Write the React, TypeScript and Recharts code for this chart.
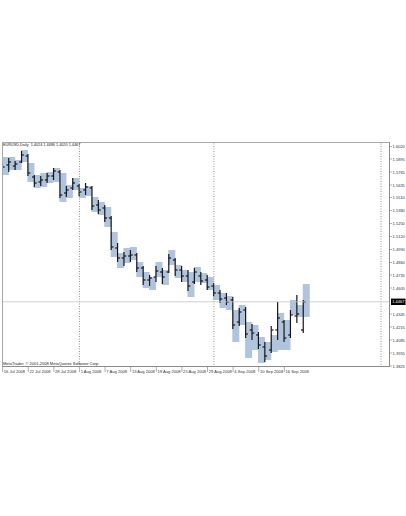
import { Bar, ComposedChart, ReferenceLine, XAxis, YAxis } from 'recharts'

// daily bars, 16 Jul 2008 .. 19 Sep 2008
const dates = [
  '16 Jul 2008', '17 Jul 2008', '18 Jul 2008', '21 Jul 2008', '22 Jul 2008', '23 Jul 2008', '24 Jul 2008', '25 Jul 2008',
  '28 Jul 2008', '29 Jul 2008', '30 Jul 2008', '31 Jul 2008', '1 Aug 2008', '4 Aug 2008', '5 Aug 2008', '6 Aug 2008',
  '7 Aug 2008', '8 Aug 2008', '11 Aug 2008', '12 Aug 2008', '13 Aug 2008', '14 Aug 2008', '15 Aug 2008', '18 Aug 2008',
  '19 Aug 2008', '20 Aug 2008', '21 Aug 2008', '22 Aug 2008', '25 Aug 2008', '26 Aug 2008', '27 Aug 2008', '28 Aug 2008',
  '29 Aug 2008', '1 Sep 2008', '2 Sep 2008', '3 Sep 2008', '4 Sep 2008', '5 Sep 2008', '8 Sep 2008', '9 Sep 2008',
  '10 Sep 2008', '11 Sep 2008', '12 Sep 2008', '15 Sep 2008', '16 Sep 2008', '17 Sep 2008', '18 Sep 2008', '19 Sep 2008',
]
const opens = [
  1.5885, 1.5835, 1.5825, 1.5865, 1.5925, 1.5715, 1.5665, 1.5685, 1.5725, 1.5765, 1.5555, 1.5605,
  1.5625, 1.5585, 1.5605, 1.5435, 1.5405, 1.5305, 1.5005, 1.4905, 1.4925, 1.4935, 1.4805, 1.4685,
  1.4715, 1.4765, 1.4765, 1.4885, 1.4785, 1.4725, 1.4665, 1.4725, 1.4685, 1.4625, 1.4555, 1.4505,
  1.4485, 1.4265, 1.4385, 1.4185, 1.4135, 1.4015, 1.3985, 1.4185, 1.4265, 1.4135, 1.4325, 1.4185,
]
const highs = [
  1.5935, 1.5905, 1.5875, 1.5975, 1.5945, 1.5735, 1.5725, 1.5755, 1.5805, 1.5785, 1.5625, 1.5705,
  1.5645, 1.5655, 1.5625, 1.5485, 1.5435, 1.5325, 1.5055, 1.4965, 1.4985, 1.4955, 1.4825, 1.4735,
  1.4825, 1.4805, 1.4945, 1.4905, 1.4825, 1.4785, 1.4805, 1.4765, 1.4735, 1.4655, 1.4585, 1.4555,
  1.4515, 1.4405, 1.4415, 1.4245, 1.4165, 1.4065, 1.4225, 1.4465, 1.4285, 1.4385, 1.4535, 1.4486,
]
const lows = [
  1.5765, 1.5765, 1.5785, 1.5855, 1.5725, 1.5615, 1.5625, 1.5655, 1.5685, 1.5505, 1.5515, 1.5585,
  1.5525, 1.5535, 1.5385, 1.5345, 1.5265, 1.4985, 1.4865, 1.4825, 1.4865, 1.4765, 1.4635, 1.4625,
  1.4665, 1.4645, 1.4755, 1.4725, 1.4665, 1.4575, 1.4645, 1.4635, 1.4585, 1.4525, 1.4455, 1.4435,
  1.4195, 1.4225, 1.4105, 1.4085, 1.3995, 1.3865, 1.3955, 1.4085, 1.4065, 1.4105, 1.4255, 1.4155,
]
const closes = [
  1.5815, 1.5865, 1.5845, 1.5935, 1.5755, 1.5655, 1.5685, 1.5725, 1.5775, 1.5535, 1.5585, 1.5655,
  1.5565, 1.5615, 1.5425, 1.5385, 1.5305, 1.5015, 1.4905, 1.4925, 1.4935, 1.4805, 1.4685, 1.4705,
  1.4775, 1.4715, 1.4905, 1.4785, 1.4725, 1.4625, 1.4765, 1.4675, 1.4615, 1.4555, 1.4495, 1.4465,
  1.4235, 1.4365, 1.4145, 1.4155, 1.4035, 1.3925, 1.4185, 1.4305, 1.4105, 1.4335, 1.4345, 1.4467,
]
const boxTops = [
  1.5915, 1.5915, 1.5885, 1.5985, 1.5855, 1.5735, 1.5755, 1.5765, 1.5805, 1.5755, 1.5635, 1.5705,
  1.5605, 1.5625, 1.5515, 1.5465, 1.5415, 1.5165, 1.4955, 1.5005, 1.5015, 1.4865, 1.4765, 1.4715,
  1.4865, 1.4785, 1.4985, 1.4835, 1.4785, 1.4765, 1.4815, 1.4755, 1.4715, 1.4635, 1.4555, 1.4525,
  1.4385, 1.4435, 1.4265, 1.4235, 1.4115, 1.4065, 1.4135, 1.4355, 1.4285, 1.4485, 1.4435, 1.4645,
]
const boxBottoms = [
  1.5735, 1.5785, 1.5785, 1.5865, 1.5665, 1.5605, 1.5615, 1.5655, 1.5665, 1.5465, 1.5505, 1.5585,
  1.5505, 1.5525, 1.5365, 1.5335, 1.5215, 1.4915, 1.4805, 1.4855, 1.4885, 1.4715, 1.4605, 1.4585,
  1.4715, 1.4635, 1.4835, 1.4705, 1.4665, 1.4515, 1.4665, 1.4655, 1.4585, 1.4485, 1.4405, 1.4385,
  1.4065, 1.4235, 1.3905, 1.3985, 1.3855, 1.3885, 1.3965, 1.3985, 1.3985, 1.4335, 1.4315, 1.4315,
]

const priceTicks = [
  1.602, 1.5895, 1.5765, 1.5635, 1.551, 1.538, 1.525, 1.512, 1.499,
  1.486, 1.4735, 1.4605, 1.4345, 1.4215, 1.4085, 1.3955, 1.3825,
]
const dateTickEvery = 4
const monthSeparators = ['1 Aug 2008', '1 Sep 2008']
const chartShiftMark = 59.1
const header = 'EURUSD,Daily  1.4024 1.4486 1.4020 1.4467'
const footer = 'MetaTrader, © 2001-2008 MetaQuotes Software Corp.'
const lastPrice = closes[closes.length - 1]

const data = dates.map((d, i) => ({
  i,
  date: d,
  open: opens[i],
  high: highs[i],
  low: lows[i],
  close: closes[i],
  range: [lows[i], highs[i]],
  box: [boxBottoms[i], boxTops[i]],
}))

const dateTicks = dates.map((_, i) => i).filter((i) => i % dateTickEvery === 0)
const FONT = '"Liberation Sans", Arial, sans-serif'
const X_DOMAIN: [number, number] = [-0.1, 60.5]

function OhlcShape(props: any) {
  const { x, y, width, height, payload } = props
  const top = Math.min(y, y + height)
  const bot = Math.max(y, y + height)
  const k = (bot - top) / (payload.high - payload.low || 1)
  const py = (p: number) => top + (payload.high - p) * k
  const cx = x + width / 2
  return (
    <g stroke="#161616" strokeWidth={1.2}>
      <line x1={cx} x2={cx} y1={top} y2={bot} />
      <line x1={cx - 2.3} x2={cx} y1={py(payload.open)} y2={py(payload.open)} />
      <line x1={cx} x2={cx + 2.3} y1={py(payload.close)} y2={py(payload.close)} />
    </g>
  )
}

function BoxShape(props: any) {
  const { x, y, width, height } = props
  const top = Math.min(y, y + height)
  const bot = Math.max(y, y + height)
  return <rect x={x + width / 2 - 0.5} y={top} width={7} height={bot - top} fill="#b0c4de" />
}

function DateTick({ x, y, payload }: any) {
  return (
    <g>
      <line x1={x} x2={x} y1={y} y2={y + 5} stroke="#777" strokeWidth={0.6} />
      <text x={x + 1.2} y={y + 5.6} fontSize={4.1} fill="#333" fontFamily={FONT}>
        {dates[payload.value]}
      </text>
    </g>
  )
}

function PriceTick({ x, y, payload }: any) {
  return (
    <g>
      <line x1={x} x2={x + 2} y1={y} y2={y} stroke="#777" strokeWidth={0.6} />
      <text x={x + 2.6} y={y + 1.5} fontSize={4} fill="#333" fontFamily={FONT}>
        {payload.value.toFixed(4)}
      </text>
    </g>
  )
}

function PriceLabel({ viewBox }: any) {
  const x = viewBox.x + viewBox.width + 1
  const y = viewBox.y
  return (
    <g>
      <rect x={x} y={y - 3.2} width={14.5} height={6.4} fill="#000" />
      <text x={x + 1.2} y={y + 1.5} fontSize={4} fill="#fff" fontFamily={FONT}>
        {lastPrice.toFixed(4)}
      </text>
    </g>
  )
}

export default function App() {
  return (
    <div style={{ position: 'absolute', left: 0, top: 0, width: 406, height: 516, background: '#fff' }}>
      <ComposedChart width={406} height={516} data={data} margin={{ top: 142, right: 0, left: 2, bottom: 139 }}>
        <XAxis xAxisId="b" type="number" dataKey="i" domain={X_DOMAIN} hide allowDataOverflow />
        <XAxis
          xAxisId="a"
          type="number"
          dataKey="i"
          domain={X_DOMAIN}
          allowDataOverflow
          ticks={dateTicks}
          tick={<DateTick />}
          tickSize={0}
          tickMargin={0}
          axisLine={false}
          tickLine={false}
          height={10}
          interval={0}
        />
        <YAxis
          orientation="right"
          domain={[1.3815, 1.6065]}
          allowDataOverflow
          ticks={priceTicks}
          tick={<PriceTick />}
          tickSize={0}
          tickMargin={0}
          axisLine={false}
          tickLine={false}
          width={16}
          interval={0}
        />
        {monthSeparators.map((d) => (
          <ReferenceLine key={d} xAxisId="a" x={dates.indexOf(d)} stroke="#7a7a7a" strokeDasharray="1 1.5" strokeWidth={0.8} />
        ))}
        <ReferenceLine xAxisId="a" x={chartShiftMark} stroke="#7a7a7a" strokeDasharray="1 1.5" strokeWidth={0.8} />
        <ReferenceLine xAxisId="a" y={lastPrice} stroke="#c4c4c4" strokeWidth={0.8} label={<PriceLabel />} />
        <Bar xAxisId="b" dataKey="box" barSize={7} shape={<BoxShape />} isAnimationActive={false} />
        <Bar xAxisId="a" dataKey="range" barSize={7} shape={<OhlcShape />} isAnimationActive={false} />
      </ComposedChart>
      <div
        style={{
          position: 'absolute',
          left: 2,
          top: 142,
          width: 388,
          height: 225,
          boxSizing: 'border-box',
          borderTop: '1px solid #a8a8a8',
          borderLeft: '1px solid #a8a8a8',
          borderRight: '1.5px solid #8a8a8a',
          borderBottom: '1px solid #8a8a8a',
          pointerEvents: 'none',
        }}
      />
      <div style={{ position: 'absolute', left: 3, top: 143, fontSize: 3.8, lineHeight: '5px', color: '#222', fontFamily: FONT, whiteSpace: 'pre' }}>
        {header}
      </div>
      <div style={{ position: 'absolute', left: 3, top: 361, fontSize: 4, lineHeight: '5px', color: '#222', fontFamily: FONT, whiteSpace: 'pre' }}>
        {footer}
      </div>
    </div>
  )
}
